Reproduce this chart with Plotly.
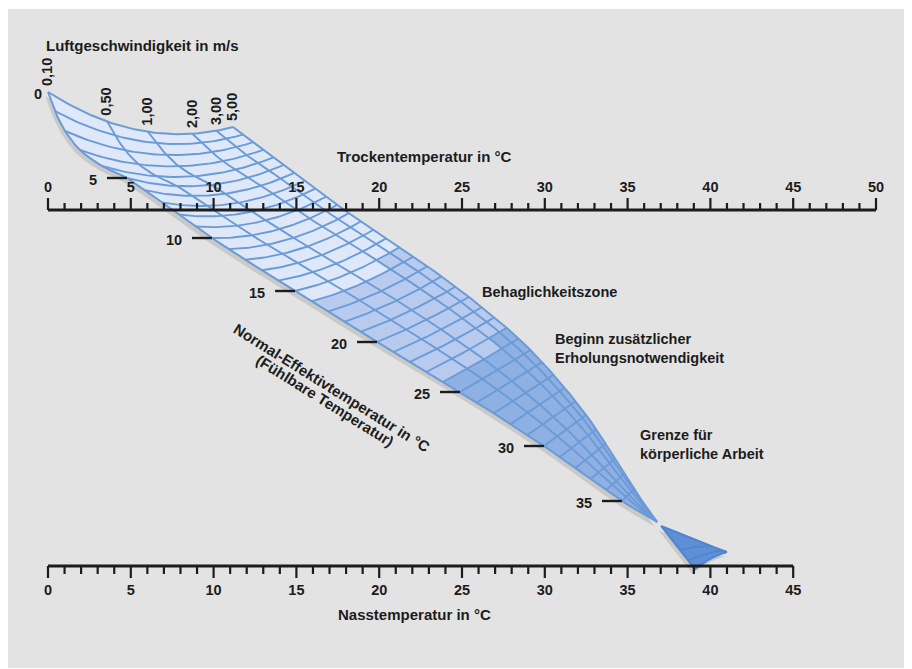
import numpy as np
import plotly.graph_objects as go

# ---------------- scales ----------------
DRY_TICKS = list(range(0, 51))                 # Trockentemperatur in °C
DRY_LABELS = list(range(0, 51, 5))
WET_TICKS = list(range(0, 46))                 # Nasstemperatur in °C
WET_LABELS = list(range(0, 46, 5))

# ---------------- air velocity lines ----------------
VEL_NAMES = ["0,10", "0,50", "1,00", "2,00", "3,00", "5,00"]
VEL_POS = [0.0, 0.32, 0.54, 0.78, 0.91, 1.0]   # relative position across the band

# ---------------- normal effective temperature lines ----------------
ET_KNOTS = [0, 1, 2, 3, 4, 5, 10, 15, 20, 25, 30, 35, 37]
# edge of the 0,10 m/s line (x in °C scale units, y in drawing units)
LOW_X = [0.00, 0.42, 1.03, 1.93, 3.26, 4.77, 9.90, 14.92, 19.87, 24.88, 29.95, 34.66, 36.78]
LOW_Y = [92, 111, 131, 150, 166, 178, 238, 291, 342, 392, 446, 501, 522]
# edge of the 5,00 m/s line
HIGH_X = [11.17, 11.78, 12.39, 13.00, 13.61, 14.22, 17.45, 21.24, 25.42, 29.13, 32.49, 35.39, 36.78]
HIGH_Y = [127, 134.6, 142.2, 149.8, 157.4, 165, 205, 247, 297, 350, 415, 489, 522]
ET_SAG = [21, 19.5, 18, 16.5, 15, 14, 9, 5, 2, 0.5, 0, 0, 0]
ET_TICK_VALUES = [5, 10, 15, 20, 25, 30, 35]
ET_GRID = list(range(1, 37))

# zones (start ET per velocity column)
COMFORT_START = [16, 16, 16, 15, 15]
RECOVERY_START = [24, 24, 24, 23, 23]

# region above 37 °C
TRI_ET = [37, 38, 39, 40]
TRI_LOW_X = [37.02, 40.04, 40.70, 40.99]
TRI_LOW_Y = [526, 546, 550.5, 552]
TRI_HIGH_X = [37.02, 38.16, 38.65, 39.07]
TRI_HIGH_Y = [526, 550, 560.5, 569]
TRI_SAG = [0, -1, -1.5, -2]

TOP_SCALE_Y = 210
BOTTOM_SCALE_Y = 566
PX = 16.56  # pixels per scale unit (for small offsets)

INK = "#1c1c1c"
GRID = "#6b9bd7"
FONT = "Liberation Sans"


def hermite(knots, vals, e):
    k = np.asarray(knots, float)
    v = np.asarray(vals, float)
    n = len(k)
    m = np.zeros(n)
    m[0] = (v[1] - v[0]) / (k[1] - k[0])
    m[-1] = (v[-1] - v[-2]) / (k[-1] - k[-2])
    for i in range(1, n - 1):
        m[i] = (v[i + 1] - v[i - 1]) / (k[i + 1] - k[i - 1])
    e = np.asarray(e, float)
    i = np.clip(np.searchsorted(k, e, side="right") - 1, 0, n - 2)
    h = k[i + 1] - k[i]
    s = (e - k[i]) / h
    h00 = 2 * s**3 - 3 * s**2 + 1
    h10 = s**3 - 2 * s**2 + s
    h01 = -2 * s**3 + 3 * s**2
    h11 = s**3 - s**2
    return h00 * v[i] + h10 * h * m[i] + h01 * v[i + 1] + h11 * h * m[i + 1]


def P(e, t):
    e = np.asarray(e, float)
    t = np.asarray(t, float)
    lx = hermite(ET_KNOTS, LOW_X, e)
    ly = hermite(ET_KNOTS, LOW_Y, e)
    hx = hermite(ET_KNOTS, HIGH_X, e)
    hy = hermite(ET_KNOTS, HIGH_Y, e)
    sag = np.interp(e, ET_KNOTS, ET_SAG)
    x = lx + t * (hx - lx)
    y = ly + t * (hy - ly) + 4 * sag * t * (1 - t)
    shp = np.broadcast(e, t).shape
    return np.broadcast_to(x, shp), np.broadcast_to(y, shp)


def PT(e, t):
    e = np.asarray(e, float)
    t = np.asarray(t, float)
    lx = np.interp(e, TRI_ET, TRI_LOW_X)
    ly = np.interp(e, TRI_ET, TRI_LOW_Y)
    hx = np.interp(e, TRI_ET, TRI_HIGH_X)
    hy = np.interp(e, TRI_ET, TRI_HIGH_Y)
    sag = np.interp(e, TRI_ET, TRI_SAG)
    x = hx + t * (lx - hx)
    y = hy + t * (ly - hy) + 4 * sag * t * (1 - t)
    shp = np.broadcast(e, t).shape
    return np.broadcast_to(x, shp), np.broadcast_to(y, shp)


def strip(f, t0, t1, e0, e1, n=14):
    es = np.linspace(e0, e1, n)
    ts = np.linspace(t0, t1, 8)
    parts = [f(es, t0), f(e1, ts), f(es[::-1], t1), f(e0, ts[::-1])]
    xs = np.concatenate([p[0] for p in parts])
    ys = np.concatenate([p[1] for p in parts])
    return list(xs), list(ys)


def join(polys):
    X, Y = [], []
    for xs, ys in polys:
        X += list(xs) + [None]
        Y += list(ys) + [None]
    return X, Y


fig = go.Figure()

# ---- shadow ----
sx, sy = strip(P, 0, 1, 0, 37, n=120)
tx, ty = strip(PT, 0, 1, 37, 40, n=20)
dx, dy = -2.5 / PX, 4.5
fig.add_trace(go.Scatter(x=[v + dx for v in sx] + [None] + [v + dx for v in tx],
                         y=[v + dy for v in sy] + [None] + [v + dy for v in ty],
                         fill="toself", fillcolor="#c9c9c9", mode="none", hoverinfo="skip"))

# ---- zone fills ----
zones = [
    ("#dfe8f9", [0] * 5, COMFORT_START),
    ("#b8cbee", COMFORT_START, RECOVERY_START),
    ("#8fb0e3", RECOVERY_START, [37] * 5),
]
for color, starts, ends in zones:
    polys = [strip(P, VEL_POS[c], VEL_POS[c + 1], starts[c], ends[c], n=40) for c in range(5)]
    X, Y = join(polys)
    fig.add_trace(go.Scatter(x=X, y=Y, fill="toself", fillcolor=color, mode="none", hoverinfo="skip"))

# ---- grid lines ----
gl = []
for e in ET_GRID:
    gl.append(P(e, np.linspace(0, 1, 50)))
for t in VEL_POS[1:-1]:
    gl.append(P(np.linspace(0, 37, 240), t))
X, Y = join(gl)
fig.add_trace(go.Scatter(x=X, y=Y, mode="lines", line=dict(color=GRID, width=1.9), hoverinfo="skip"))
ol = [P(0, np.linspace(0, 1, 60)), P(np.linspace(0, 37, 300), 0), P(np.linspace(0, 37, 300), 1)]
X, Y = join(ol)
fig.add_trace(go.Scatter(x=X, y=Y, mode="lines", line=dict(color=GRID, width=2), hoverinfo="skip"))

# ---- region above 37 ----
fig.add_trace(go.Scatter(x=tx, y=ty, fill="toself", fillcolor="#5f90d7", mode="lines",
                         line=dict(color="#4f84cf", width=2), hoverinfo="skip"))
tl = [PT(e, np.linspace(0, 1, 20)) for e in TRI_ET[1:-1]]
X, Y = join(tl)
fig.add_trace(go.Scatter(x=X, y=Y, mode="lines", line=dict(color="#4f84cf", width=1.8), hoverinfo="skip"))

# ---- ET ticks ----
X, Y = [], []
for e in ET_TICK_VALUES:
    x0, y0 = P(e, 0.0)
    X += [float(x0) - 20 / PX, float(x0), None]
    Y += [float(y0), float(y0), None]
fig.add_trace(go.Scatter(x=X, y=Y, mode="lines", line=dict(color=INK, width=2.4), hoverinfo="skip"))

# ---- top scale ----
X, Y = [], []
for k in DRY_TICKS:
    h = 12 if k % 5 == 0 else 7
    X += [k, k, None]
    Y += [TOP_SCALE_Y, TOP_SCALE_Y - h, None]
fig.add_trace(go.Scatter(x=X, y=Y, mode="lines", line=dict(color=INK, width=2.2), hoverinfo="skip"))
fig.add_trace(go.Scatter(x=[DRY_TICKS[0], DRY_TICKS[-1]], y=[TOP_SCALE_Y, TOP_SCALE_Y], mode="lines",
                         line=dict(color=INK, width=3), hoverinfo="skip"))
fig.add_trace(go.Scatter(x=DRY_LABELS, y=[TOP_SCALE_Y - 22] * len(DRY_LABELS), mode="text",
                         text=[f"<b>{v}</b>" for v in DRY_LABELS],
                         textfont=dict(family=FONT, size=14.5, color=INK), hoverinfo="skip"))

# ---- bottom scale ----
X, Y = [], []
for k in WET_TICKS:
    h = 12 if k % 5 == 0 else 8
    X += [k, k, None]
    Y += [BOTTOM_SCALE_Y, BOTTOM_SCALE_Y + h, None]
fig.add_trace(go.Scatter(x=X, y=Y, mode="lines", line=dict(color=INK, width=2.2), hoverinfo="skip"))
fig.add_trace(go.Scatter(x=[WET_TICKS[0], WET_TICKS[-1]], y=[BOTTOM_SCALE_Y, BOTTOM_SCALE_Y], mode="lines",
                         line=dict(color=INK, width=3), hoverinfo="skip"))
fig.add_trace(go.Scatter(x=WET_LABELS, y=[BOTTOM_SCALE_Y + 25] * len(WET_LABELS), mode="text",
                         text=[f"<b>{v}</b>" for v in WET_LABELS],
                         textfont=dict(family=FONT, size=14.5, color=INK), hoverinfo="skip"))

ann = []


def label(text, x, y, size=15, **kw):
    d = dict(text=text, x=x, y=y, xref="x", yref="y", showarrow=False,
             font=dict(family=FONT, size=size, color=INK))
    d.update(kw)
    ann.append(d)


# ET labels
for e in ET_TICK_VALUES:
    x0, y0 = P(e, 0.0)
    label(f"<b>{e}</b>", float(x0), float(y0), size=14.5, xanchor="right", yanchor="middle", xshift=-28, yshift=-2)
x0, y0 = P(0, 0.0)
label("<b>0</b>", float(x0), float(y0), size=14.5, xanchor="right", yanchor="middle", xshift=-4, yshift=-2)

# velocity labels
for name, t in zip(VEL_NAMES, VEL_POS):
    x0, y0 = P(0, t)
    label(f"<b>{name}</b>", float(x0), float(y0), size=14.5, xanchor="center", yanchor="middle",
          textangle=-90, xshift=-1, yshift=20)

label("<b>Luftgeschwindigkeit in m/s</b>", -0.24, 45, xanchor="left", yanchor="middle")
label("<b>Trockentemperatur in °C</b>", 17.33, 156, xanchor="left", yanchor="middle")
label("<b>Nasstemperatur in °C</b>", 17.39, 614, xanchor="left", yanchor="middle")
label("<b>Behaglichkeitszone</b>", 26.09, 292, size=14.5, xanchor="left", yanchor="middle")
label("<b>Beginn zusätzlicher<br>Erholungsnotwendigkeit</b>", 30.50, 348.5, size=14.5,
      xanchor="left", yanchor="middle", align="left")
label("<b>Grenze für<br>körperliche Arbeit</b>", 35.63, 444.5, size=14.5,
      xanchor="left", yanchor="middle", align="left")
label("<b>Normal-Effektivtemperatur in °C</b>", 17.12, 387.5, xanchor="center", yanchor="middle", textangle=32)
label("<b>(Fühlbare Temperatur)</b>", 16.73, 400, xanchor="center", yanchor="middle", textangle=32)

# page body has an 8 px margin: figure occupies page x 8..910, y 8..668
fig.update_layout(
    width=902, height=660, autosize=False,
    margin=dict(l=0, r=0, t=1, b=0, pad=0),
    paper_bgcolor="white", plot_bgcolor="#e3e3e3",
    showlegend=False,
    xaxis=dict(range=[(8 - 48) / PX, (910 - 48) / PX], visible=False, fixedrange=True),
    yaxis=dict(range=[668, 9], visible=False, fixedrange=True),
    annotations=ann,
    font=dict(family=FONT),
)

fig.write_html("out.html")
